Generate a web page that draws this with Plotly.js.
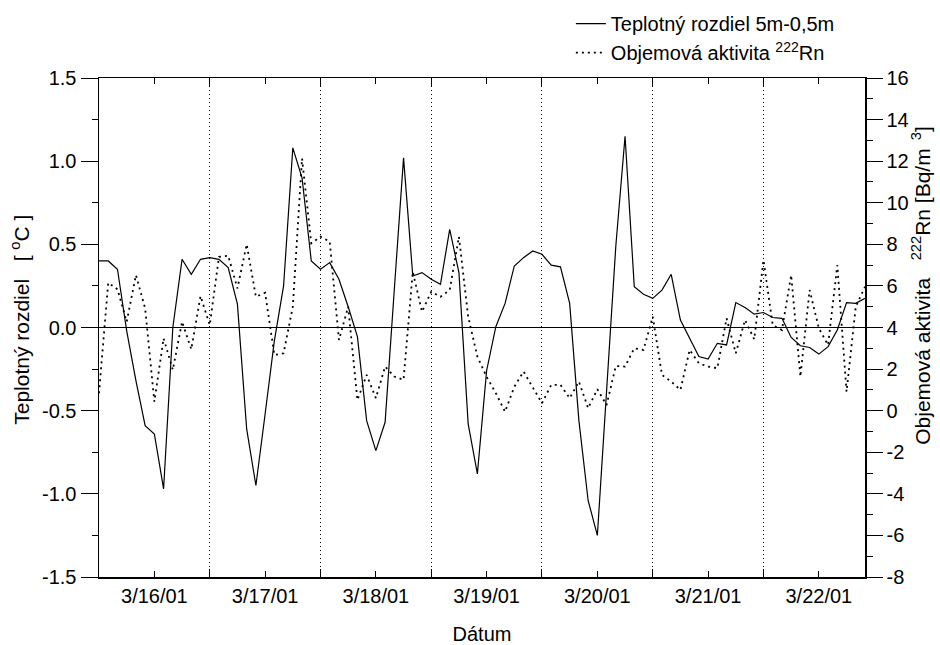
<!DOCTYPE html>
<html>
<head>
<meta charset="utf-8">
<script src="https://cdn.plot.ly/plotly-3.0.1.min.js"></script>
<style>html,body{margin:0;padding:0;background:#fff;}#chart{width:940px;height:645px;}</style>
</head>
<body>
<div id="chart"></div>
<script>
// Measurements every 2 hours starting 2001-03-16 00:00
var startTime = '2001-03-16 00:00';
var stepMs = 7200000;

var tempDiff = [
  0.40, 0.40, 0.35, -0.02, -0.32, -0.59, -0.64, -0.97, 0.00, 0.41, 0.32, 0.41,
  0.42, 0.41, 0.36, 0.14, -0.61, -0.95, -0.52, -0.08, 0.25, 1.08, 0.90, 0.40,
  0.35, 0.39, 0.29, 0.125, -0.055, -0.56, -0.74, -0.57, 0.23, 1.02, 0.31, 0.33,
  0.29, 0.26, 0.59, 0.33, -0.58, -0.88, -0.26, 0.005, 0.145, 0.37, 0.42, 0.46,
  0.44, 0.375, 0.365, 0.145, -0.56, -1.04, -1.25, -0.40, 0.49, 1.15, 0.245, 0.20,
  0.175, 0.225, 0.32, 0.045, -0.065, -0.175, -0.19, -0.095, -0.105, 0.15, 0.12, 0.08,
  0.09, 0.06, 0.055, -0.06, -0.11, -0.12, -0.16, -0.115, -0.015, 0.15, 0.145, 0.175
];

var radon = [
  0.84, 6.15, 5.84, 4.28, 6.52, 4.92, 0.43, 3.48, 1.96, 4.28, 2.95, 5.51,
  4.12, 7.40, 7.45, 5.88, 8.00, 5.48, 5.67, 2.68, 2.76, 5.00, 12.13, 8.05,
  8.37, 8.13, 3.40, 5.00, 0.51, 1.72, 0.60, 2.12, 1.64, 1.48, 6.68, 4.76,
  5.72, 5.48, 5.80, 8.37, 4.52, 2.60, 1.63, 0.84, -0.05, 1.15, 1.88, 1.15,
  0.36, 1.24, 1.24, 0.60, 1.40, 0.12, 1.03, 0.27, 2.15, 2.12, 3.00, 2.92,
  4.52, 1.72, 1.40, 1.00, 2.92, 2.28, 2.12, 2.04, 4.44, 2.76, 4.36, 3.43,
  7.24, 4.12, 3.88, 6.52, 1.64, 5.80, 3.96, 3.16, 7.00, 0.91, 5.00, 5.96
];

var dayTickVals = ['2001-03-16 12:00','2001-03-17 12:00','2001-03-18 12:00','2001-03-19 12:00','2001-03-20 12:00','2001-03-21 12:00','2001-03-22 12:00'];
var dayTickText = ['3/16/01','3/17/01','3/18/01','3/19/01','3/20/01','3/21/01','3/22/01'];

var leftTickVals = [-1.5, -1.0, -0.5, 0.0, 0.5, 1.0, 1.5];
var leftTickText = ['-1.5','-1.0','-0.5','0.0','0.5','1.0','1.5'];
var rightTickVals = [-8, -6, -4, -2, 0, 2, 4, 6, 8, 10, 12, 14, 16];
var rightTickText = ['-8','-6','-4','-2','0','2','4','6','8','10','12','14','16'];

var leftTitle = 'Teplotný rozdiel\u00a0\u00a0\u00a0[\u00a0<sup>o</sup>C\u00a0]';
var rightTitle = 'Objemová aktivita\u00a0\u00a0\u00a0<sup>222</sup>Rn\u00a0[Bq/m<sup>\u00a0\u00a03</sup>]';

var fontFam = 'Liberation Sans, Arial, Helvetica, sans-serif';

var traces = [
  {
    type: 'scatter', mode: 'lines', name: 'Teplotný rozdiel 5m-0,5m',
    x0: startTime, dx: stepMs, y: tempDiff,
    line: {color: '#000', width: 1.2}, yaxis: 'y'
  },
  {
    type: 'scatter', mode: 'lines', name: 'Objemová aktivita <sup>222</sup>Rn',
    x0: startTime, dx: stepMs, y: radon,
    line: {color: '#000', width: 1.8, dash: '2px,4px'}, yaxis: 'y2'
  }
];

var layout = {
  width: 940, height: 645,
  margin: {l: 99, r: 75, t: 78, b: 68, autoexpand: false},
  paper_bgcolor: '#fff', plot_bgcolor: '#fff',
  font: {family: fontFam, size: 20, color: '#000'},
  showlegend: true,
  legend: {
    x: 0.616, y: 1.148, xanchor: 'left', yanchor: 'top',
    bgcolor: 'rgba(0,0,0,0)', font: {size: 20}, tracegroupgap: 0
  },
  annotations: [
    {text: leftTitle, xref: 'paper', yref: 'paper', x: -0.1031, y: 0.5155,
     xanchor: 'center', yanchor: 'middle', textangle: -90, showarrow: false,
     font: {size: 21}},
    {text: rightTitle, xref: 'paper', yref: 'paper', x: 1.0731, y: 0.5856,
     xanchor: 'center', yanchor: 'middle', textangle: -90, showarrow: false,
     font: {size: 21}}
  ],
  xaxis: {
    type: 'date',
    range: ['2001-03-16 00:00', '2001-03-22 22:00'],
    tickmode: 'array', tickvals: dayTickVals, ticktext: dayTickText,
    ticks: 'inside', ticklen: 6, tickcolor: '#000', tickwidth: 1,
    ticklabelstandoff: 0,
    showgrid: false, zeroline: false,
    showline: true, linecolor: '#000', linewidth: 1.5, mirror: 'ticks',
    tickfont: {size: 20},
    title: {text: 'Dátum', font: {size: 20}, standoff: 22},
    minor: {
      tickmode: 'linear', tick0: '2001-03-16 00:00', dtick: 86400000,
      ticks: 'inside', ticklen: 8, tickcolor: '#000',
      showgrid: true, gridcolor: '#000', gridwidth: 1, griddash: '1px,3px'
    }
  },
  yaxis: {
    range: [-1.5, 1.5],
    tickmode: 'array', tickvals: leftTickVals, ticktext: leftTickText,
    ticks: 'outside', ticklen: 17, tickcolor: '#000', tickwidth: 1,
    showgrid: false,
    zeroline: true, zerolinecolor: '#000', zerolinewidth: 1.5,
    showline: true, linecolor: '#000', linewidth: 1.5,
    tickfont: {size: 20},
    minor: {tickmode: 'linear', tick0: 0, dtick: 0.25, ticks: 'outside', ticklen: 6, tickcolor: '#000', showgrid: false}
  },
  yaxis2: {
    overlaying: 'y', side: 'right',
    range: [-8, 16],
    tickmode: 'array', tickvals: rightTickVals, ticktext: rightTickText,
    ticks: 'outside', ticklen: 16, tickcolor: '#000', tickwidth: 1,
    showgrid: false, zeroline: false,
    showline: true, linecolor: '#000', linewidth: 1.5,
    tickfont: {size: 20},
    minor: {tickmode: 'linear', tick0: 0, dtick: 1, ticks: 'outside', ticklen: 6, tickcolor: '#000', showgrid: false}
  }
};

Plotly.newPlot('chart', traces, layout, {displayModeBar: false, staticPlot: true});
</script>
</body>
</html>
